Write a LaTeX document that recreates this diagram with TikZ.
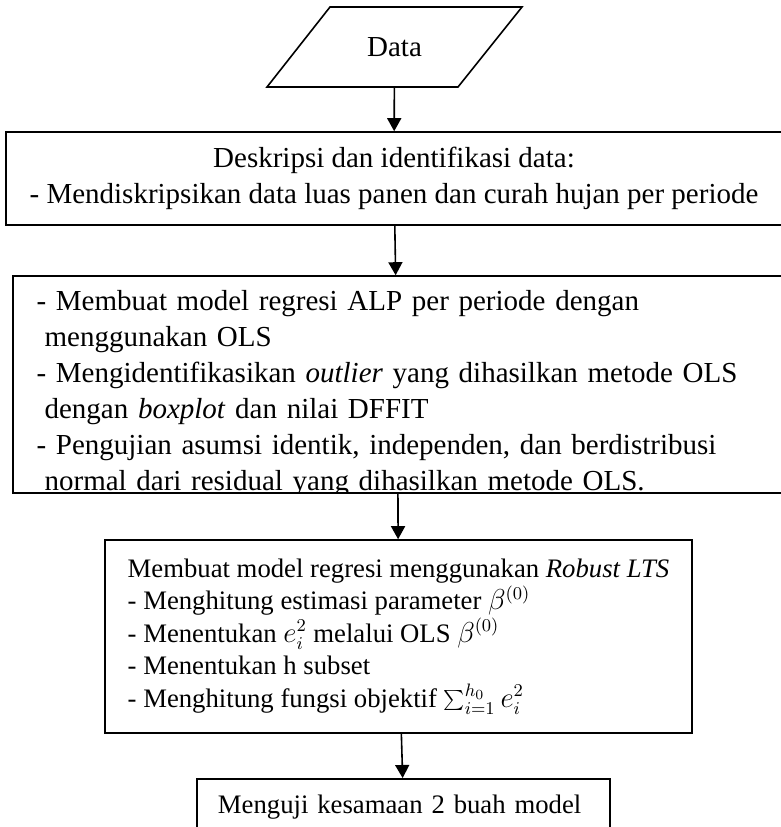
\documentclass[tikz,border=0pt]{standalone}
\usepackage{fontspec}
\setmainfont{Liberation Serif}
\usetikzlibrary{arrows.meta,calc}

\begin{document}
\begin{tikzpicture}[x=0.5pt,y=-0.5pt,
      box/.style={draw,line width=0.8pt},
      bigtxt/.style={font=\fontsize{14.5}{18}\selectfont},
      smalltxt/.style={font=\fontsize{13.35}{16.3}\selectfont},
      arr/.style={-{Triangle[length=6.5pt,width=7pt]},line width=0.8pt}
    ]
      \useasboundingbox (0,0) rectangle (781,827);
      \node[bigtxt,outer sep=0pt,inner sep=0pt,minimum width=127.5pt,minimum height=40pt] (data) at (394.5,47) {Data};
      \draw[line width=0.8pt] (data.south west) -- ([xshift=-32pt]data.south east) -- (data.north east) -- ([xshift=31.5pt]data.north west) -- cycle;
      \node[box,bigtxt,align=center,inner sep=0pt,minimum width=388pt,minimum height=46.5pt] (desc) at (394,178.5) {Deskripsi dan identifikasi data:\\- Mendiskripsikan data luas panen dan curah hujan per periode};
      \node[box,minimum width=384.5pt,minimum height=108.5pt] (ols) at (397.5,384.5) {};
      \begin{scope}
        \clip (ols.north west) rectangle (ols.south east);
        \node[bigtxt,text width=364pt,align=left,inner sep=0pt,anchor=north west] (olstxt) at ($(ols.north west)+(24,15)$) {- Membuat model regresi ALP per periode dengan\\
          \hspace*{4pt}menggunakan OLS\\
          - Mengidentifikasikan \textit{outlier} yang dihasilkan metode OLS\\
          \hspace*{4pt}dengan \textit{boxplot} dan nilai DFFIT\\
          \makebox[364pt][s]{- Pengujian asumsi identik, independen, dan berdistribusi}\\
          \hspace*{4pt}normal dari residual yang dihasilkan metode OLS.};
      \end{scope}
      \node[box,smalltxt,align=left,inner sep=0pt,minimum width=293.5pt,minimum height=96.5pt] (lts) at (398.5,636.5) {Membuat model regresi menggunakan \textit{Robust LTS}\\
        - Menghitung estimasi parameter $\beta^{(0)}$\\
        - Menentukan $e_i^2$ melalui OLS $\beta^{(0)}$\\
        - Menentukan h subset\\
        - Menghitung fungsi objektif $\sum_{i=1}^{h_0} e_i^2$};
      \node[box,smalltxt,align=left,inner xsep=10.5pt,text width=185.5pt,minimum height=28pt,anchor=north] (uji) at (403.5,778) {Menguji kesamaan 2 buah model};
      \draw[arr] (data) -- (desc);
      \draw[arr] (desc) -- (ols);
      \draw[arr] (ols) -- (lts);
      \draw[arr] (lts) -- (uji);
    \end{tikzpicture}
\end{document}
